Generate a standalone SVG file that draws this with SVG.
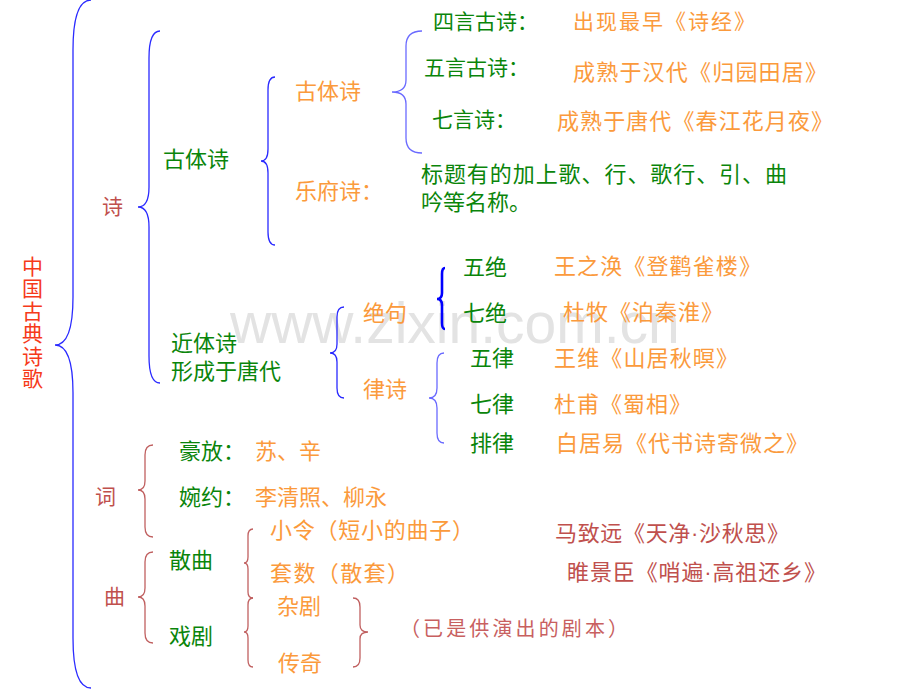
<svg xmlns="http://www.w3.org/2000/svg" width="920" height="690" viewBox="0 0 920 690">
<style>
text{font-family:"Noto Sans CJK SC","Liberation Sans",sans-serif;font-size:22px}
.g{fill:#0a850a}
.o{fill:#fb9a3c}
.r{fill:#c0504d}
.red{fill:#f63a1a}
.wm{font-family:"Liberation Sans",sans-serif;font-size:57px;fill:#e3e3e3}
.dot{font-family:"Liberation Sans",sans-serif}
.br{fill:none;stroke-width:1.3}
.b1{stroke:#2a2aff}
.b2{stroke:#6a6aff}
.b3{stroke:#0000ff;stroke-width:2.6}
.bc{stroke:#c06060}
.s21{font-size:21px}
</style>
<rect width="920" height="690" fill="#ffffff"/>
<text class="wm" x="230" y="343">www.zixin.com.cn</text>
<g id="connectors">
<path class="br b1" d="M91,0 Q73,0 73,50 L73,297 Q73,345 55,345 Q73,345 73,393 L73,638 Q73,688 91,688"/>
<path class="br b1" d="M160,31 Q149,31 149,58 L149,187 Q149,207 138,207 Q149,207 149,227 L149,356 Q149,383 160,383"/>
<path class="br b1" d="M275,77 Q268,77 268,90 L268,149 Q268,161 261,161 Q268,161 268,173 L268,232 Q268,245 275,245"/>
<path class="br b2" d="M422,31 Q406,31 406,46 L406,80 Q406,92 392,92 Q406,92 406,104 L406,138 Q406,153 422,153"/>
<path class="br b1" d="M344,307 Q337,307 337,317 L337,344 Q337,353 330,353 Q337,353 337,362 L337,388 Q337,398 344,398"/>
<path class="br b3" d="M445,268 Q442,268 442,274 L442,293 Q442,299 437,299 Q442,299 442,305 L442,323 Q442,329 445,329"/>
<path class="br b2" d="M444,353 Q437,353 437,363 L437,388 Q437,398 429,398 Q437,398 437,408 L437,433 Q437,443 444,443"/>
<path class="br bc" d="M153,445 Q145,445 145,455 L145,481 Q145,490 138,490 Q145,490 145,499 L145,527 Q145,537 153,537"/>
<path class="br bc" d="M153,552 Q145,552 145,562 L145,588 Q145,597 138,597 Q145,597 145,606 L145,633 Q145,643 153,643"/>
<path class="br bc" d="M253,529 Q248,529 248,536 L248,557 Q248,563 244,563 Q248,563 248,569 L248,592 Q248,598 253,598"/>
<path class="br bc" d="M253,598 Q248,598 248,605 L248,626 Q248,632 244,632 Q248,632 248,638 L248,660 Q248,667 253,667"/>
<path class="br bc" d="M353,598 Q360,598 360,607 L360,625 Q360,632 368,632 Q360,632 360,639 L360,658 Q360,667 353,667"/>
</g>
<g id="root"><text class="red s21"><tspan x="22" y="273.5">中</tspan><tspan x="22" y="296">国</tspan><tspan x="22" y="318.5">古</tspan><tspan x="22" y="341">典</tspan><tspan x="22" y="363.5">诗</tspan><tspan x="22" y="386">歌</tspan></text></g>
<g id="shi"><text class="r s21" x="102" y="213.5">诗</text></g>
<g id="gutishi"><text class="g" x="163" y="166.5">古体诗</text></g>
<g id="gutishi2"><text class="o" x="295" y="98.5">古体诗</text></g>
<g id="yuefu"><text class="o" x="295" y="198.5">乐府诗：</text></g>
<g id="siyan"><text class="g s21" x="433" y="28.5">四言古诗：</text><text class="o s21" x="573" y="28.5" textLength="182">出现最早《诗经》</text></g>
<g id="wuyan"><text class="g s21" x="424" y="74.5">五言古诗：</text><text class="o" x="573" y="79.5" textLength="254">成熟于汉代《归园田居》</text></g>
<g id="qiyan"><text class="g s21" x="432" y="126.5">七言诗：</text><text class="o" x="557" y="128.5" textLength="276">成熟于唐代《春江花月夜》</text></g>
<g id="yuefu-desc"><text class="g" x="421" y="181.5" textLength="366">标题有的加上歌、行、歌行、引、曲</text><text class="g" x="421" y="209.5">吟等名称。</text></g>
<g id="jintishi"><text class="g" x="171" y="350.5">近体诗</text><text class="g" x="171" y="378.5">形成于唐代</text></g>
<g id="jueju"><text class="o" x="363" y="320.5">绝句</text></g>
<g id="lvshi"><text class="o" x="363" y="396.5">律诗</text></g>
<g id="wujue"><text class="g" x="463" y="274.5">五绝</text><text class="o" x="554" y="273.5" textLength="207">王之涣《登鹳雀楼》</text></g>
<g id="qijue"><text class="g" x="463" y="320.5">七绝</text><text class="o" x="563" y="320" textLength="160">杜牧《泊秦淮》</text></g>
<g id="wulv"><text class="g" x="470" y="365.5">五律</text><text class="o" x="554" y="366" textLength="184">王维《山居秋暝》</text></g>
<g id="qilv"><text class="g" x="470" y="411.5">七律</text><text class="o" x="554" y="412" textLength="137">杜甫《蜀相》</text></g>
<g id="pailv"><text class="g" x="470" y="450.5">排律</text><text class="o" x="556" y="450.5" textLength="252">白居易《代书诗寄微之》</text></g>
<g id="ci"><text class="r s21" x="95" y="503.5">词</text></g>
<g id="haofang"><text class="g" x="179" y="458.5">豪放：</text><text class="o" x="255" y="458.5">苏、辛</text></g>
<g id="wanyue"><text class="g" x="179" y="504.5">婉约：</text><text class="o" x="255" y="504.5">李清照、柳永</text></g>
<g id="qu"><text class="r s21" x="104" y="603.5">曲</text></g>
<g id="sanqu"><text class="g" x="169" y="567.5">散曲</text></g>
<g id="xiju"><text class="g" x="169" y="644">戏剧</text></g>
<g id="xiaoling"><text class="o" x="270" y="538" textLength="204">小令（短小的曲子）</text><text class="r" x="555" y="540.5" textLength="234">马致远《天净<tspan class="dot">·</tspan>沙秋思》</text></g>
<g id="taoshu"><text class="o" x="270" y="581" textLength="139">套数（散套）</text><text class="r" x="567" y="579.5" textLength="259">睢景臣《哨遍<tspan class="dot">·</tspan>高祖还乡》</text></g>
<g id="zaju"><text class="o" x="277" y="614">杂剧</text></g>
<g id="chuanqi"><text class="o" x="278" y="671">传奇</text></g>
<g id="note"><text class="r" style="font-size:20px;fill:#c86060" x="400" y="636" textLength="228">（已是供演出的剧本）</text></g>
</svg>
